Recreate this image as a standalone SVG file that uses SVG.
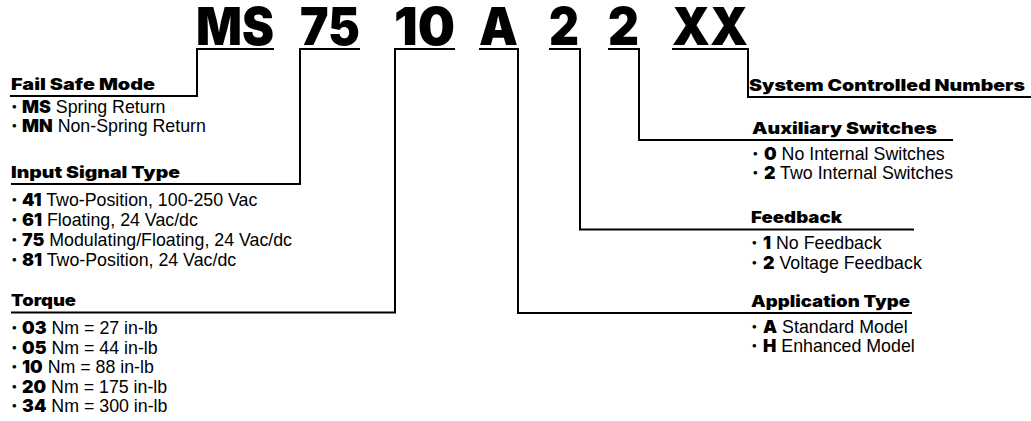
<svg xmlns="http://www.w3.org/2000/svg" width="1031" height="421" viewBox="0 0 1031 421">
<style>
.code{font-family:Inter,"Liberation Sans",Arial,sans-serif;font-weight:900;font-size:52px;fill:#000}
.h{font-family:Inter,"Liberation Sans",Arial,sans-serif;font-weight:900;font-size:15.5px;fill:#000}
.t{font-family:"Liberation Sans",Arial,sans-serif;font-size:17.8px;fill:#000}
.k{font-family:Inter,"Liberation Sans",Arial,sans-serif;font-weight:900}
.c{fill:none;stroke:#000;stroke-width:2}
</style>
<rect width="1031" height="421" fill="#fff"/>
<g id="code">
<text class="code" x="196" y="45" textLength="78" lengthAdjust="spacingAndGlyphs">MS</text>
<text class="code" x="300" y="45" textLength="60" lengthAdjust="spacingAndGlyphs">75</text>
<text class="code" x="394" y="45" textLength="61" lengthAdjust="spacingAndGlyphs">10</text>
<text class="code" x="479" y="45" textLength="39" lengthAdjust="spacingAndGlyphs">A</text>
<text class="code" x="549" y="45" textLength="30" lengthAdjust="spacingAndGlyphs">2</text>
<text class="code" x="608" y="45" textLength="31" lengthAdjust="spacingAndGlyphs">2</text>
<text class="code" x="672" y="45" textLength="76" lengthAdjust="spacingAndGlyphs">XX</text>
</g>
<g id="connectors">
<path class="c" d="M274,49H197V96H10"/>
<path class="c" d="M360,49H300V184H11"/>
<path class="c" d="M455,49H395V312.5H11"/>
<path class="c" d="M479,49H518V313H912"/>
<path class="c" d="M549,49H580V229.5H914"/>
<path class="c" d="M608,49H639V140H953"/>
<path class="c" d="M672,49H748V97H1031"/>
</g>
<g id="fail-safe-mode">
<text class="h" x="11" y="90" textLength="144" lengthAdjust="spacingAndGlyphs">Fail Safe Mode</text>
<text class="t" x="11" y="113"><tspan class="k">·</tspan><tspan class="k" x="22">MS</tspan> Spring Return</text>
<text class="t" x="11" y="132"><tspan class="k">·</tspan><tspan class="k" x="22">MN</tspan> Non-Spring Return</text>
</g>
<g id="input-signal-type">
<text class="h" x="11" y="178" textLength="169" lengthAdjust="spacingAndGlyphs">Input Signal Type</text>
<text class="t" x="11" y="205.5"><tspan class="k">·</tspan><tspan class="k" x="22">41</tspan> Two-Position, 100-250 Vac</text>
<text class="t" x="11" y="225.5"><tspan class="k">·</tspan><tspan class="k" x="22">61</tspan> Floating, 24 Vac/dc</text>
<text class="t" x="11" y="245.5"><tspan class="k">·</tspan><tspan class="k" x="22">75</tspan> Modulating/Floating, 24 Vac/dc</text>
<text class="t" x="11" y="265.5"><tspan class="k">·</tspan><tspan class="k" x="22">81</tspan> Two-Position, 24 Vac/dc</text>
</g>
<g id="torque">
<text class="h" x="11" y="306" textLength="65" lengthAdjust="spacingAndGlyphs">Torque</text>
<text class="t" x="11" y="334"><tspan class="k">·</tspan><tspan class="k" x="22">03</tspan> Nm = 27 in-lb</text>
<text class="t" x="11" y="353.5"><tspan class="k">·</tspan><tspan class="k" x="22">05</tspan> Nm = 44 in-lb</text>
<text class="t" x="11" y="373"><tspan class="k">·</tspan><tspan class="k" x="22">10</tspan> Nm = 88 in-lb</text>
<text class="t" x="11" y="392.5"><tspan class="k">·</tspan><tspan class="k" x="22">20</tspan> Nm = 175 in-lb</text>
<text class="t" x="11" y="412"><tspan class="k">·</tspan><tspan class="k" x="22">34</tspan> Nm = 300 in-lb</text>
</g>
<g id="system-controlled-numbers">
<text class="h" x="749" y="91" textLength="276" lengthAdjust="spacingAndGlyphs">System Controlled Numbers</text>
</g>
<g id="auxiliary-switches">
<text class="h" x="752" y="134" textLength="185" lengthAdjust="spacingAndGlyphs">Auxiliary Switches</text>
<text class="t" x="752" y="160"><tspan class="k">·</tspan><tspan class="k" x="764">0</tspan> No Internal Switches</text>
<text class="t" x="752" y="179"><tspan class="k">·</tspan><tspan class="k" x="764">2</tspan> Two Internal Switches</text>
</g>
<g id="feedback">
<text class="h" x="751" y="223" textLength="91" lengthAdjust="spacingAndGlyphs">Feedback</text>
<text class="t" x="751" y="249"><tspan class="k">·</tspan><tspan class="k" x="763">1</tspan> No Feedback</text>
<text class="t" x="751" y="268.5"><tspan class="k">·</tspan><tspan class="k" x="763">2</tspan> Voltage Feedback</text>
</g>
<g id="application-type">
<text class="h" x="751" y="307" textLength="159" lengthAdjust="spacingAndGlyphs">Application Type</text>
<text class="t" x="751" y="333"><tspan class="k">·</tspan><tspan class="k" x="763">A</tspan> Standard Model</text>
<text class="t" x="751" y="352"><tspan class="k">·</tspan><tspan class="k" x="763">H</tspan> Enhanced Model</text>
</g>
</svg>
